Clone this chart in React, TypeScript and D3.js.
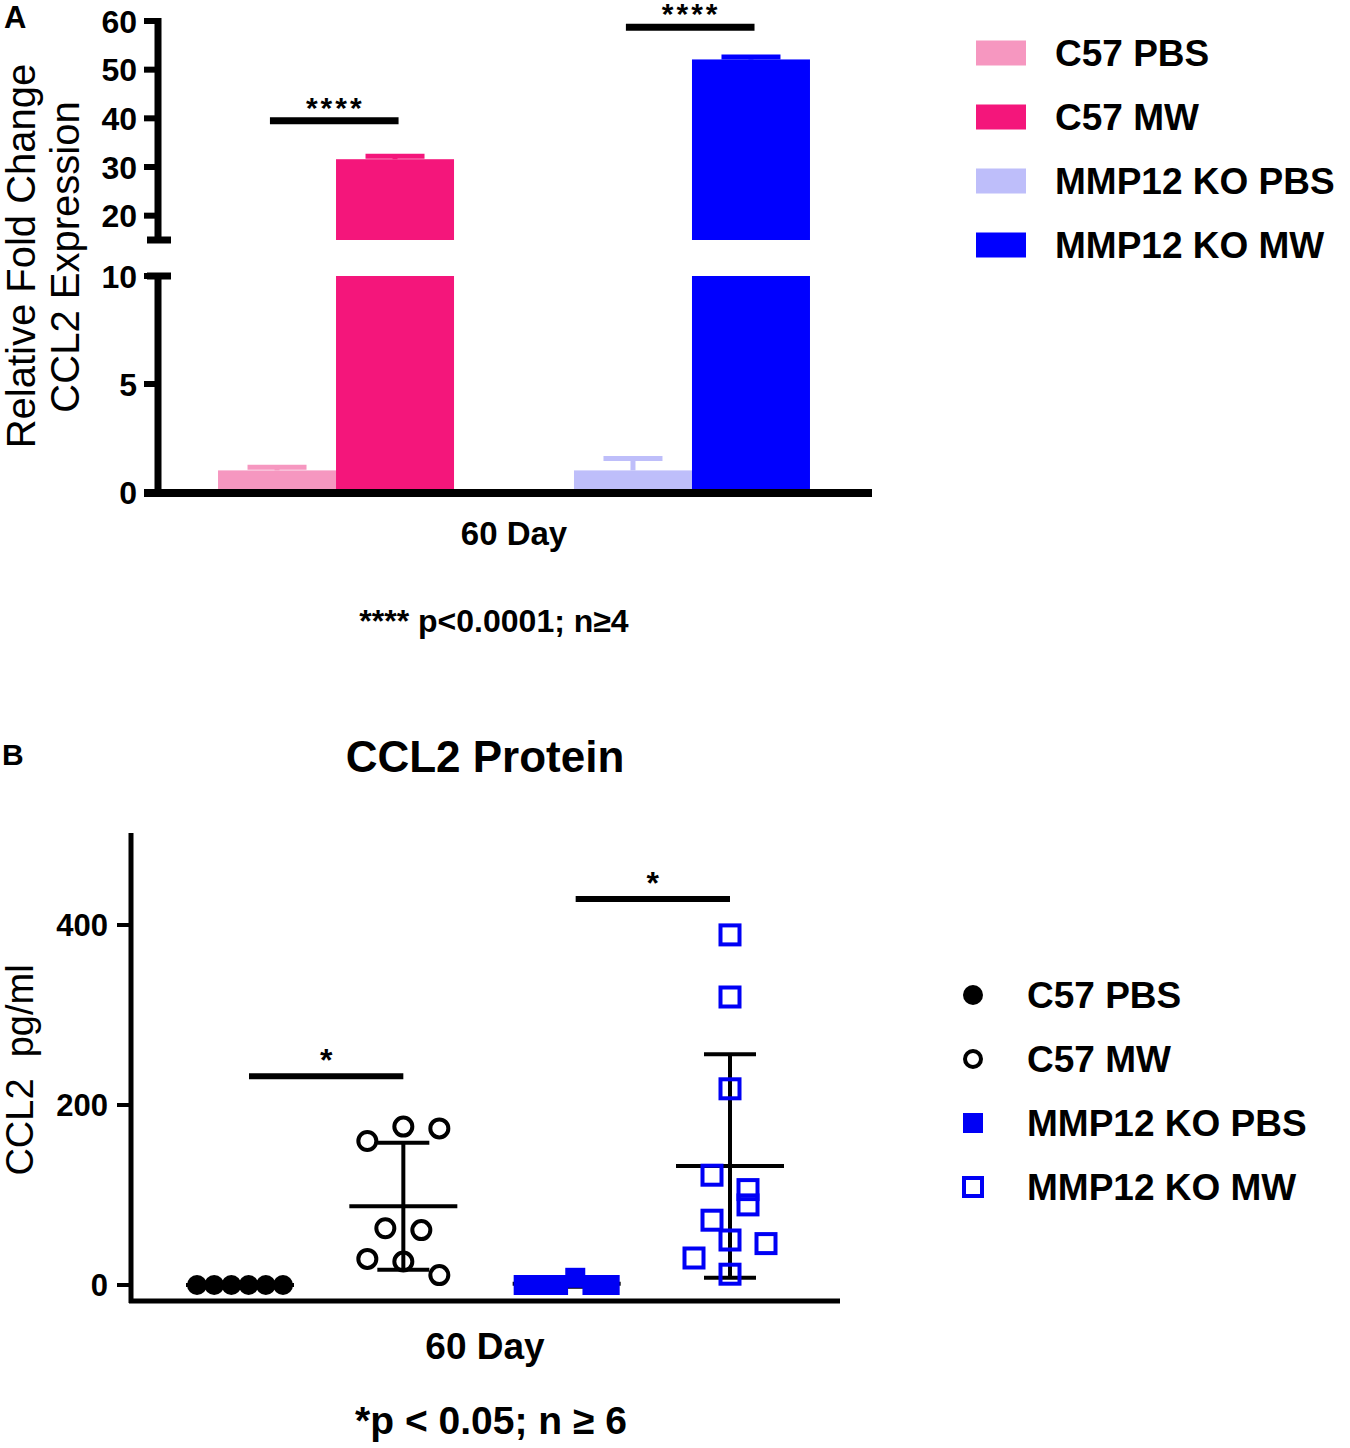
import React from "react";
import * as d3 from "d3";

const FONT = "'Liberation Sans', Arial, Helvetica, sans-serif";

// ---------- Data ----------
const groups = ["C57 PBS", "C57 MW", "MMP12 KO PBS", "MMP12 KO MW"];
const strains = ["C57", "MMP12 KO"];
const treatments = ["PBS", "MW"];

// Panel A: relative fold change (mean, SEM)
const foldMean = [1.0, 31.6, 1.0, 52.1];
const foldSem = [0.15, 0.6, 0.55, 0.5];
const barColors = ["#F697C0", "#F4167B", "#BEBEFA", "#0000FF"];
const topTicks = [20, 30, 40, 50, 60];
const bottomTicks = [0, 5, 10];
const sigValuesA = [39.5, 58.7];

// Panel B: CCL2 protein pg/ml (individual animals)
const proteinC57PBS = [0, 0, 0, 0, 0, 0];
const proteinC57MW = [160, 176, 174, 63, 61, 29, 26, 11];
const proteinKOPBS = [0, 0, 0, 8, 0, 0];
const proteinKOMW = [389, 320, 218, 122, 106, 72, 89, 30, 50, 46, 12];
const proteinTicks = [0, 200, 400];
const sigValuesB = [232, 429];
const markerColors = ["#000000", "#000000", "#0000F5", "#0000F5"];

// row-based scatter arrangement (GraphPad-like)
function swarmOffsets(values: number[], y: (v: number) => number, rowPx = 20, step = 36, maxHalf = 43) {
  const order = values.map((_, i) => i).sort((a, b) => values[b] - values[a]);
  const rows: number[][] = [];
  let y0 = -1e9;
  for (const i of order) {
    const yy = y(values[i]);
    if (rows.length && Math.abs(yy - y0) < rowPx) rows[rows.length - 1].push(i);
    else {
      rows.push([i]);
      y0 = yy;
    }
  }
  const off = new Array(values.length).fill(0);
  for (const r of rows) {
    r.sort((a, b) => a - b);
    const n = r.length;
    const s = n > 1 ? Math.min(step, (2 * maxHalf) / (n - 1)) : 0;
    r.forEach((idx, k) => (off[idx] = (k - (n - 1) / 2) * s));
  }
  return off;
}

export default function App() {
  // ---------- Panel A scales ----------
  const xOuter = d3.scaleBand<string>().domain(strains).range([160, 868]).paddingInner(0.337).paddingOuter(0.163);
  const xInner = d3.scaleBand<string>().domain(treatments).range([0, xOuter.bandwidth()]);
  const yTop = d3.scaleLinear().domain([15, 60]).range([240, 21]);
  const yBot = d3.scaleLinear().domain([0, 10]).range([492, 276]);
  const yA = (v: number) => (v <= 10 ? yBot(v) : yTop(v));
  const axisXA = 158;

  const barInfo = groups.map((g, i) => {
    const strain = strains[Math.floor(i / 2)];
    const tr = treatments[i % 2];
    const x = (xOuter(strain) as number) + (xInner(tr) as number);
    return { g, i, x, w: xInner.bandwidth(), v: foldMean[i], sem: foldSem[i], color: barColors[i] };
  });

  // ---------- Panel B scales ----------
  const xB = d3.scalePoint<string>().domain(groups).range([240, 730]);
  const yB = d3.scaleLinear().domain([0, 500]).range([1285, 835]);
  const axisXB = 131;
  const protein = [proteinC57PBS, proteinC57MW, proteinKOPBS, proteinKOMW];

  const legendA = groups.map((g, i) => ({ g, color: barColors[i] }));

  return (
    <svg
      width={1350}
      height={1448}
      style={{ position: "absolute", left: 0, top: 0, background: "#fff" }}
      fontFamily={FONT}
    >
      <rect x={0} y={0} width={1350} height={1448} fill="#fff" />
      {/* ================= Panel A ================= */}
      <text x={4} y={28} fontSize={31} fontWeight="bold">A</text>

      {/* bars */}
      {barInfo.map((b) => (
        <g key={b.g}>
          <rect x={b.x} y={yBot(Math.min(b.v, 10))} width={b.w} height={yBot(0) - yBot(Math.min(b.v, 10))} fill={b.color} />
          {b.v > 15 && (
            <rect x={b.x} y={yTop(b.v)} width={b.w} height={yTop(15) - yTop(b.v)} fill={b.color} />
          )}
          {/* SEM error bar */}
          <line x1={b.x + b.w / 2} x2={b.x + b.w / 2} y1={yA(b.v)} y2={yA(b.v + b.sem)} stroke={b.color} strokeWidth={5} />
          <line x1={b.x + b.w / 4} x2={b.x + (3 * b.w) / 4} y1={yA(b.v + b.sem)} y2={yA(b.v + b.sem)} stroke={b.color} strokeWidth={5} />
        </g>
      ))}

      {/* y axis (broken) */}
      <line x1={axisXA} x2={axisXA} y1={yTop(60) - 3} y2={yTop(15)} stroke="#000" strokeWidth={7} />
      <line x1={axisXA} x2={axisXA} y1={yBot(10)} y2={yBot(0) + 4} stroke="#000" strokeWidth={7} />
      <line x1={axisXA - 11} x2={axisXA + 13} y1={yTop(15)} y2={yTop(15)} stroke="#000" strokeWidth={7} />
      <line x1={axisXA - 11} x2={axisXA + 13} y1={yBot(10)} y2={yBot(10)} stroke="#000" strokeWidth={7} />
      {topTicks.map((t) => (
        <g key={"tt" + t}>
          <line x1={axisXA - 14} x2={axisXA} y1={yTop(t)} y2={yTop(t)} stroke="#000" strokeWidth={6} />
          <text x={137} y={yTop(t)} dy="0.36em" textAnchor="end" fontSize={32} fontWeight="bold">{t}</text>
        </g>
      ))}
      {bottomTicks.map((t) => (
        <g key={"bt" + t}>
          <line x1={axisXA - 14} x2={axisXA} y1={yBot(t)} y2={yBot(t)} stroke="#000" strokeWidth={6} />
          <text x={137} y={yBot(t)} dy="0.36em" textAnchor="end" fontSize={32} fontWeight="bold">{t}</text>
        </g>
      ))}
      {/* x axis */}
      <line x1={axisXA - 14} x2={872} y1={yBot(0) + 1} y2={yBot(0) + 1} stroke="#000" strokeWidth={8} />

      {/* y label */}
      <text transform={`translate(35,256) rotate(-90)`} textAnchor="middle" fontSize={40}>Relative Fold Change</text>
      <text transform={`translate(79,257) rotate(-90)`} textAnchor="middle" fontSize={40}>CCL2 Expression</text>

      {/* significance */}
      {strains.map((s, k) => {
        const x0 = (xOuter(s) as number) + xOuter.bandwidth() * 0.22;
        const x1 = (xOuter(s) as number) + xOuter.bandwidth() * 0.765;
        const y = yA(sigValuesA[k]);
        return (
          <g key={"sigA" + s}>
            <line x1={x0} x2={x1} y1={y} y2={y} stroke="#000" strokeWidth={7} />
            <text x={(x0 + x1) / 2 + 1} y={y - 3} textAnchor="middle" fontSize={30} fontWeight="bold" letterSpacing={3}>****</text>
          </g>
        );
      })}

      <text x={514} y={545} textAnchor="middle" fontSize={33} fontWeight="bold">60 Day</text>
      <text x={494} y={632} textAnchor="middle" fontSize={32} fontWeight="bold">**** p&lt;0.0001; n≥4</text>

      {/* legend A */}
      {legendA.map((l, i) => {
        const cy = 53 + i * 64;
        return (
          <g key={"la" + l.g}>
            <rect x={976} y={cy - 12.5} width={50} height={25} fill={l.color} />
            <text x={1055} y={cy + 13} fontSize={37} fontWeight="bold">{l.g}</text>
          </g>
        );
      })}

      {/* ================= Panel B ================= */}
      <text x={2} y={765} fontSize={30} fontWeight="bold">B</text>
      <text x={485} y={772} textAnchor="middle" fontSize={44} fontWeight="bold">CCL2 Protein</text>

      {/* axes */}
      <line x1={axisXB} x2={axisXB} y1={833} y2={1303} stroke="#000" strokeWidth={5} />
      <line x1={axisXB - 2} x2={840} y1={1301} y2={1301} stroke="#000" strokeWidth={5} />
      {proteinTicks.map((t) => (
        <g key={"pt" + t}>
          <line x1={axisXB - 14} x2={axisXB} y1={yB(t)} y2={yB(t)} stroke="#000" strokeWidth={4} />
          <text x={108} y={yB(t)} dy="0.36em" textAnchor="end" fontSize={31} fontWeight="bold">{t}</text>
        </g>
      ))}
      <text transform={`translate(33,1070) rotate(-90)`} textAnchor="middle" fontSize={38} xmlSpace="preserve">CCL2  pg/ml</text>

      {/* mean ± SD */}
      {groups.map((g, i) => {
        const vals = protein[i];
        const m = d3.mean(vals) as number;
        const sd = d3.deviation(vals) as number;
        const cx = xB(g) as number;
        return (
          <g key={"msd" + g} stroke="#000" strokeWidth={4}>
            <line x1={cx - 54} x2={cx + 54} y1={yB(m)} y2={yB(m)} />
            <line x1={cx} x2={cx} y1={yB(m + sd)} y2={yB(Math.max(m - sd, -1))} />
            <line x1={cx - 26} x2={cx + 26} y1={yB(m + sd)} y2={yB(m + sd)} />
            <line x1={cx - 26} x2={cx + 26} y1={yB(m - sd)} y2={yB(m - sd)} />
          </g>
        );
      })}

      {/* points */}
      {groups.map((g, i) => {
        const vals = protein[i];
        const offs = swarmOffsets(vals, (v) => yB(v));
        const cx = xB(g) as number;
        const col = markerColors[i];
        return (
          <g key={"pts" + g}>
            {vals.map((v, k) => {
              const px = cx + offs[k];
              const py = yB(v);
              if (i === 0) return <circle key={k} cx={px} cy={py} r={10} fill={col} />;
              if (i === 1) return <circle key={k} cx={px} cy={py} r={9} fill="none" stroke={col} strokeWidth={4} />;
              if (i === 2) return <rect key={k} x={px - 10} y={py - 10} width={20} height={20} fill={col} />;
              return <rect key={k} x={px - 9.5} y={py - 9.5} width={19} height={19} fill="none" stroke={col} strokeWidth={4} />;
            })}
          </g>
        );
      })}

      {/* significance B */}
      {[0, 1].map((k) => {
        const x0 = (xB(groups[k * 2]) as number) + 9;
        const x1 = xB(groups[k * 2 + 1]) as number;
        const y = yB(sigValuesB[k]);
        return (
          <g key={"sigB" + k}>
            <line x1={x0} x2={x1} y1={y} y2={y} stroke="#000" strokeWidth={6} />
            <text x={(x0 + x1) / 2} y={y - 5} textAnchor="middle" fontSize={32} fontWeight="bold">*</text>
          </g>
        );
      })}

      <text x={485} y={1359} textAnchor="middle" fontSize={37} fontWeight="bold">60 Day</text>
      <text x={491} y={1434} textAnchor="middle" fontSize={39} fontWeight="bold">*p &lt; 0.05; n ≥ 6</text>

      {/* legend B */}
      {groups.map((g, i) => {
        const cy = 995 + i * 64;
        const col = markerColors[i];
        const mx = 973;
        return (
          <g key={"lb" + g}>
            {i === 0 && <circle cx={mx} cy={cy} r={10} fill={col} />}
            {i === 1 && <circle cx={mx} cy={cy} r={8} fill="none" stroke={col} strokeWidth={4} />}
            {i === 2 && <rect x={mx - 10} y={cy - 10} width={20} height={20} fill={col} />}
            {i === 3 && <rect x={mx - 9} y={cy - 9} width={18} height={18} fill="none" stroke={col} strokeWidth={4} />}
            <text x={1027} y={cy + 13} fontSize={37} fontWeight="bold">{g}</text>
          </g>
        );
      })}
    </svg>
  );
}
